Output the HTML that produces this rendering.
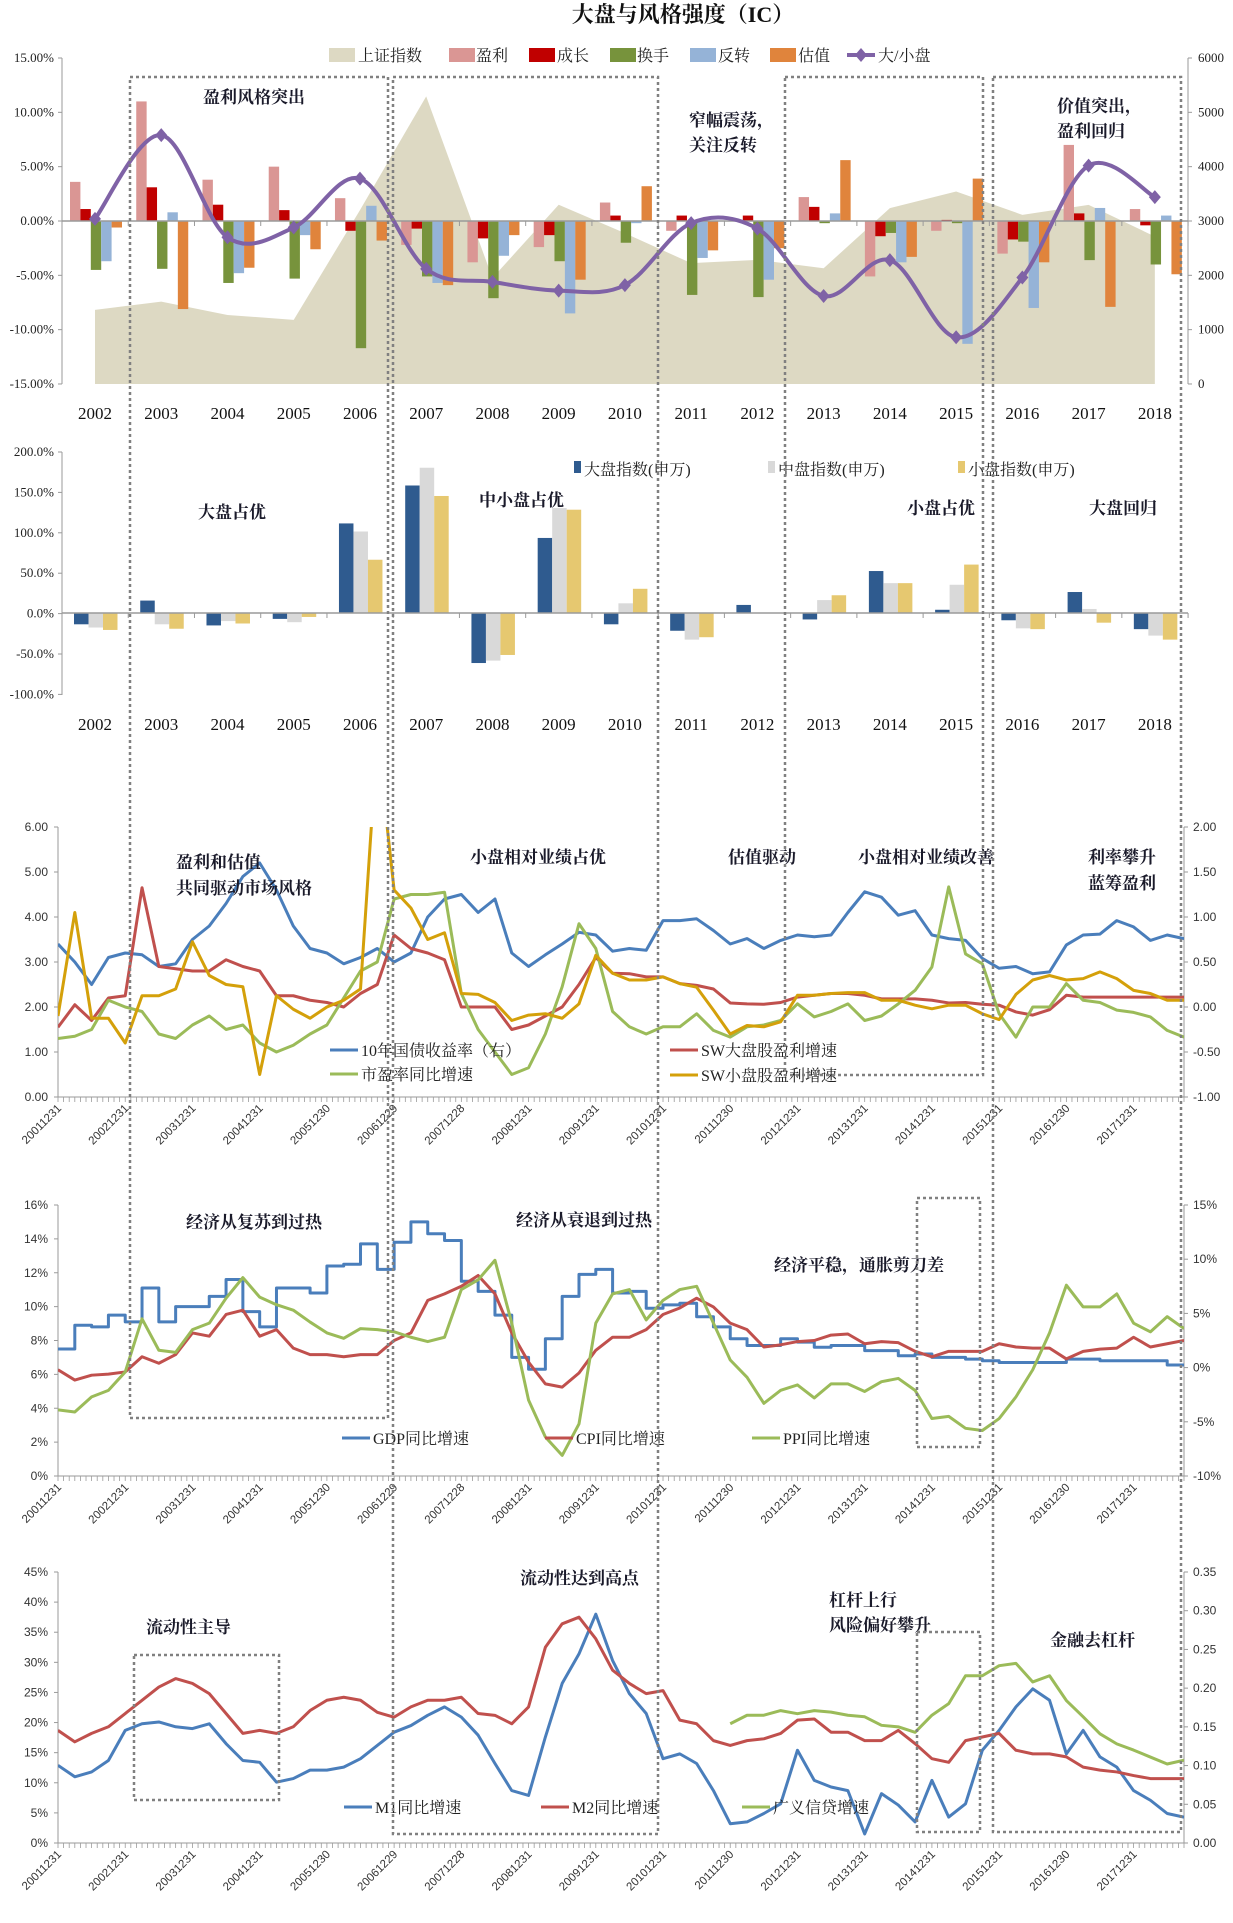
<!DOCTYPE html>
<html><head><meta charset="utf-8">
<style>
html,body{margin:0;padding:0;background:#fff;}
svg{display:block;}
.t{font-family:"Liberation Serif","Noto Serif CJK SC",serif;font-size:13px;fill:#222;}
.yr{font-family:"Liberation Serif",serif;font-size:17px;fill:#111;}
.ann{font-family:"Liberation Serif","Noto Serif CJK SC",serif;font-size:17px;font-weight:bold;fill:#1a1a2a;}
.lg{font-family:"Liberation Serif","Noto Serif CJK SC",serif;font-size:16px;fill:#222;}
.tk{font-family:"Liberation Sans",sans-serif;font-size:12px;fill:#333;}
.dt{font-family:"Liberation Sans",sans-serif;font-size:11.5px;fill:#333;}
</style></head>
<body>
<svg id="root" width="1233" height="1923" viewBox="0 0 1233 1923" xmlns="http://www.w3.org/2000/svg">
<text x="683" y="22" text-anchor="middle" style="font-family:'Liberation Serif','Noto Serif CJK SC',serif;font-size:22px;font-weight:bold;fill:#111">大盘与风格强度（IC）</text>
</svg>
<script>
// ---------- Chart 1 data ----------
const years = ["2002","2003","2004","2005","2006","2007","2008","2009","2010","2011","2012","2013","2014","2015","2016","2017","2018"];
const profit = [3.6,11.0,3.8,5.0,2.1,-2.2,-3.8,-2.4,1.7,-0.9,0.0,2.2,-5.1,-0.9,-3.0,7.0,1.1];
const growth = [1.1,3.1,1.5,1.0,-0.9,-0.7,-1.6,-1.3,0.5,0.5,0.5,1.3,-1.4,0.1,-1.7,0.7,-0.4];
const turnover = [-4.5,-4.4,-5.7,-5.3,-11.7,-5.1,-7.1,-3.7,-2.0,-6.8,-7.0,-0.2,-1.1,-0.2,-1.9,-3.6,-4.0];
const reversal = [-3.7,0.8,-4.8,-1.3,1.4,-5.7,-3.2,-8.5,-0.2,-3.4,-5.4,0.7,-3.8,-11.3,-8.0,1.2,0.5];
const valuation = [-0.6,-8.1,-4.3,-2.6,-1.8,-5.9,-1.3,-5.4,3.2,-2.7,-2.5,5.6,-3.3,3.9,-3.8,-7.9,-4.9];
const shIndex = [1364,1517,1271,1180,3200,5295,1950,3300,2776,2224,2285,2131,3237,3544,3114,3298,2715];
const bigSmall = [0.2,7.9,-1.5,-0.6,3.9,-4.4,-5.6,-6.4,-5.9,-0.2,-0.7,-6.9,-3.6,-10.7,-5.2,5.1,2.2];
const c1LeftTicks = ["15.00%","10.00%","5.00%","0.00%","-5.00%","-10.00%","-15.00%"];
const c1RightTicks = ["6000","5000","4000","3000","2000","1000","0"];
// ---------- Chart 2 data ----------
const largeIdx = [-14,15.4,-15.4,-7.3,111,158,-62,93,-14,-22,10,-8,52,4,-9,26,-20];
const midIdx = [-18,-14,-10,-11.4,101,180,-59,130,12,-33,0,16,37,35,-19,5,-28];
const smallIdx = [-21,-19.5,-13,-4.9,66,145,-52,128,30,-30,0,22,37,60,-20,-12,-33];
const c2Ticks = ["200.0%","150.0%","100.0%","50.0%","0.0%","-50.0%","-100.0%"];
// ---------- Shared monthly axis ----------
const dateLabels = ["20011231","20021231","20031231","20041231","20051230","20061229","20071228","20081231","20091231","20101231","20111230","20121231","20131231","20141231","20151231","20161230","20171231"];
// ---------- Chart 3 data (quarterly samples from 2001-12) ----------
const bondYield = [0.7,0.5,0.25,0.55,0.6,0.58,0.45,0.48,0.75,0.9,1.15,1.45,1.6,1.3,0.9,0.65,0.6,0.48,0.55,0.65,0.5,0.6,1.0,1.2,1.25,1.05,1.2,0.6,0.45,0.58,0.7,0.83,0.8,0.62,
 0.65,0.63,0.96,0.96,0.98,0.85,0.7,0.76,0.65,0.74,0.8,0.78,0.8,1.05,1.28,1.22,1.02,1.07,0.8,0.76,0.74,0.54,0.43,0.45,0.37,0.39,0.69,0.8,0.81,0.96,0.89,0.74,0.8,0.76];
const swLarge = [1.55,2.05,1.7,2.2,2.25,4.65,2.9,2.85,2.8,2.8,3.05,2.9,2.8,2.25,2.25,2.15,2.1,2.0,2.3,2.5,3.6,3.3,3.2,3.05,2.0,2.0,2.0,1.5,1.6,1.8,2.0,2.5,3.1,2.75,
 2.74,2.67,2.67,2.52,2.48,2.4,2.09,2.07,2.06,2.1,2.22,2.26,2.3,2.3,2.26,2.18,2.18,2.18,2.15,2.09,2.1,2.06,2.04,1.89,1.82,1.94,2.26,2.22,2.22,2.22,2.22,2.22,2.22,2.22];
const swSmall = [1.8,4.1,1.75,1.75,1.2,2.25,2.25,2.4,3.45,2.7,2.5,2.45,0.5,2.25,1.95,1.75,2.0,2.15,2.4,8,4.6,4.2,3.5,3.65,2.3,2.28,2.1,1.7,1.82,1.85,1.75,2.07,3.15,2.75,
 2.6,2.6,2.67,2.52,2.44,1.93,1.4,1.59,1.56,1.67,2.26,2.26,2.3,2.32,2.32,2.15,2.15,2.04,1.96,2.04,2.04,1.85,1.72,2.28,2.6,2.7,2.6,2.63,2.78,2.63,2.37,2.3,2.15,2.15];
const peGrowth = [1.3,1.35,1.5,2.15,2.0,1.9,1.4,1.3,1.6,1.8,1.5,1.6,1.2,1.0,1.15,1.4,1.6,2.2,2.8,3.0,4.4,4.5,4.5,4.55,2.3,1.5,1.0,0.5,0.65,1.4,2.45,3.85,3.3,1.9,
 1.56,1.4,1.56,1.56,1.85,1.48,1.33,1.56,1.6,1.7,2.07,1.78,1.9,2.07,1.7,1.8,2.07,2.37,2.89,4.67,3.18,2.96,1.85,1.33,2.0,2.0,2.52,2.15,2.1,1.93,1.88,1.78,1.48,1.33];
const c3LeftTicks = ["6.00","5.00","4.00","3.00","2.00","1.00","0.00"];
const c3RightTicks = ["2.00","1.50","1.00","0.50","0.00","-0.50","-1.00"];
// ---------- Chart 4 data ----------
const gdp = [7.5,8.9,8.8,9.5,9.1,11.1,9.1,10.0,10.0,10.6,11.6,9.7,8.8,11.1,11.1,10.8,12.4,12.5,13.7,12.2,13.8,15.0,14.3,13.9,11.5,10.9,9.5,7.0,6.3,8.1,10.6,11.9,12.2,10.8,
 10.9,9.9,10.1,10.2,9.4,8.8,8.1,7.7,7.7,8.1,7.9,7.6,7.7,7.7,7.4,7.4,7.1,7.2,7.0,7.0,6.9,6.8,6.7,6.7,6.7,6.7,6.9,6.9,6.8,6.8,6.8,6.8,6.55,6.55];
const cpi = [-0.2,-1.15,-0.7,-0.6,-0.4,1.0,0.4,1.2,3.2,2.9,4.9,5.3,2.9,3.5,1.8,1.2,1.2,1.0,1.2,1.2,2.5,3.2,6.2,6.8,7.5,8.5,6.8,3.2,0.5,-1.5,-1.8,-0.5,1.6,2.8,
 2.8,3.5,4.9,5.5,6.4,5.6,4.1,3.5,1.9,2.1,2.4,2.5,3.0,3.1,2.2,2.4,2.3,1.5,1.0,1.5,1.5,1.5,2.2,1.9,1.8,1.8,0.8,1.5,1.7,1.8,2.8,1.9,2.2,2.5];
const ppi = [-3.9,-4.1,-2.7,-2.1,-0.4,4.5,1.6,1.4,3.5,4.1,6.4,8.3,6.5,5.8,5.3,4.2,3.2,2.7,3.6,3.5,3.3,2.8,2.4,2.8,7.2,8.1,9.9,4.1,-3.0,-6.4,-8.1,-5.2,4.1,6.8,
 7.2,4.4,6.2,7.2,7.5,4.1,0.7,-0.9,-3.3,-2.1,-1.6,-2.8,-1.5,-1.5,-2.2,-1.3,-1.0,-2.1,-4.7,-4.5,-5.6,-5.8,-4.7,-2.7,-0.2,3.2,7.6,5.6,5.6,6.8,4.1,3.3,4.7,3.6];
const c4LeftTicks = ["16%","14%","12%","10%","8%","6%","4%","2%","0%"];
const c4RightTicks = ["15%","10%","5%","0%","-5%","-10%"];
// ---------- Chart 5 data ----------
const m1 = [12.9,11.0,11.8,13.7,18.7,19.8,20.1,19.3,19.0,19.8,16.5,13.7,13.4,10.1,10.7,12.1,12.1,12.6,14.0,16.2,18.4,19.5,21.2,22.6,20.9,17.9,13.2,8.7,7.9,17.6,26.5,31.4,38.0,30.3,
 24.8,21.5,14.0,14.8,13.2,8.7,3.2,3.5,4.9,6.5,15.4,10.4,9.3,8.7,1.5,8.2,6.3,3.5,10.4,4.3,6.5,15.4,18.7,22.6,25.6,23.7,14.8,18.7,14.3,12.6,8.7,7.1,4.9,4.3];
const m2 = [18.7,16.8,18.2,19.3,21.5,23.7,25.9,27.3,26.5,24.8,21.5,18.2,18.7,18.2,19.3,22.0,23.7,24.2,23.7,21.7,20.9,22.6,23.7,23.7,24.2,21.5,21.2,19.8,22.6,32.5,36.4,37.5,33.9,28.7,
 26.5,24.8,25.3,20.4,19.8,17.0,16.2,17.0,17.3,18.2,20.4,20.6,18.4,18.4,17.0,17.0,18.7,16.5,14.0,13.4,17.0,17.6,18.2,15.4,14.8,14.8,14.3,12.6,12.1,11.8,11.2,10.7,10.7,10.7];
const creditStartMonth = 120;
const credit = [0.154,0.165,0.165,0.171,0.167,0.171,0.169,0.165,0.163,0.152,0.150,0.143,0.165,0.180,0.216,0.216,0.229,0.232,0.208,0.216,0.184,0.163,0.141,0.128,0.12,0.111,0.102,0.107];
const c5LeftTicks = ["45%","40%","35%","30%","25%","20%","15%","10%","5%","0%"];
const c5RightTicks = ["0.35","0.30","0.25","0.20","0.15","0.10","0.05","0.00"];

const NS = "http://www.w3.org/2000/svg";
const root = document.getElementById("root");
function mk(tag, attrs, parent){
  const e = document.createElementNS(NS, tag);
  for (const k in attrs) e.setAttribute(k, attrs[k]);
  (parent||root).appendChild(e);
  return e;
}
function txt(x,y,s,cls,anchor,parent){
  const e = mk("text",{x:x,y:y,class:cls,"text-anchor":anchor||"start"},parent);
  e.textContent = s;
  return e;
}
const GRAY = "#9a9a9a";

// ================= CHART 1 =================
const c1 = mk("g",{});


const gx = i => 62 + i*66.24;
const yP = v => 221 - v*10.87;
const yS = v => 384 - v*0.05433;
// area
let ad = "M"+(gx(0)+33)+","+yS(0);
shIndex.forEach((v,i)=>{ ad += " L"+(gx(i)+33)+","+yS(v); });
ad += " L"+(gx(16)+33)+","+yS(0)+" Z";
const area = mk("path",{d:ad,fill:"#DDD9C3"},c1);


// axes
mk("line",{x1:62,y1:58,x2:62,y2:384,stroke:GRAY},c1);
mk("line",{x1:1188,y1:58,x2:1188,y2:384,stroke:GRAY},c1);
c1LeftTicks.forEach((s,i)=>{ const y=58+i*54.33; txt(54,y+4,s,"t","end",c1); mk("line",{x1:58,y1:y,x2:62,y2:y,stroke:GRAY},c1); });
c1RightTicks.forEach((s,i)=>{ const y=58+i*54.33; txt(1198,y+4,s,"t","start",c1); mk("line",{x1:1188,y1:y,x2:1192,y2:y,stroke:GRAY},c1); });
// bars
const seriesC1 = [[profit,"#DA9694","bar-profit"],[growth,"#C00000","bar-growth"],[turnover,"#77933C","bar-turnover"],[reversal,"#95B3D7","bar-reversal"],[valuation,"#E0843C","bar-valuation"]];
seriesC1.forEach((s,k)=>{
  s[0].forEach((v,i)=>{
    const x = gx(i)+8+k*10.4;
    const y0 = yP(0), y1 = yP(v);
    const r = mk("rect",{x:x,y:Math.min(y0,y1),width:10.4,height:Math.abs(y1-y0),fill:s[1]},c1);
    
    
  });
});
mk("line",{x1:62,y1:221,x2:1188,y2:221,stroke:GRAY,"stroke-width":1.5},c1);
for(let i=0;i<=17;i++) mk("line",{x1:gx(i),y1:221,x2:gx(i),y2:226,stroke:GRAY},c1);
years.forEach((s,i)=>{ const t=txt(gx(i)+33,419,s,"yr","middle",c1);   });
// purple smooth line
const pts = bigSmall.map((v,i)=>[gx(i)+33,yP(v)]);
let pd = "M"+pts[0][0]+","+pts[0][1];
for(let i=0;i<pts.length-1;i++){
  const p0=pts[Math.max(0,i-1)],p1=pts[i],p2=pts[i+1],p3=pts[Math.min(pts.length-1,i+2)];
  const c1x=p1[0]+(p2[0]-p0[0])/6,c1y=p1[1]+(p2[1]-p0[1])/6,c2x=p2[0]-(p3[0]-p1[0])/6,c2y=p2[1]-(p3[1]-p1[1])/6;
  pd += " C"+c1x+","+c1y+" "+c2x+","+c2y+" "+p2[0]+","+p2[1];
}
const pl = mk("path",{d:pd,fill:"none",stroke:"#7F62A6","stroke-width":4},c1);


pts.forEach(p=>{
  const d = mk("path",{d:"M"+p[0]+","+(p[1]-7)+" L"+(p[0]+6)+","+p[1]+" L"+p[0]+","+(p[1]+7)+" L"+(p[0]-6)+","+p[1]+" Z",fill:"#7F62A6"},c1);
  
  
});
// legend
const lg1 = mk("g",{},c1);


[["上证指数","#DDD9C3",329,358],["盈利","#DA9694",449,476],["成长","#C00000",529,557],["换手","#77933C",610,637],["反转","#95B3D7",690,718],["估值","#E0843C",770,798]].forEach(l=>{
  mk("rect",{x:l[2],y:48,width:26,height:14,fill:l[1]},lg1);
  txt(l[3],61,l[0],"lg","start",lg1);
});
mk("line",{x1:847,y1:55,x2:875,y2:55,stroke:"#7F62A6","stroke-width":4},lg1);
mk("path",{d:"M861,48 L867,55 L861,62 L855,55 Z",fill:"#7F62A6"},lg1);
txt(878,61,"大/小盘","lg","start",lg1);

// ================= CHART 2 =================
const c2 = mk("g",{});


const y2 = v => 613 - v*0.807;
mk("line",{x1:62,y1:452,x2:62,y2:695,stroke:GRAY},c2);
c2Ticks.forEach((s,i)=>{ const y=452+i*40.4; txt(54,y+4,s,"t","end",c2); mk("line",{x1:58,y1:y,x2:62,y2:y,stroke:GRAY},c2); });
[[largeIdx,"#2F5B8F","bar-large-cap"],[midIdx,"#D9D9D9","bar-mid-cap"],[smallIdx,"#E6C870","bar-small-cap"]].forEach((s,k)=>{
  s[0].forEach((v,i)=>{
    const x = gx(i)+12+k*14.5;
    const r = mk("rect",{x:x,y:Math.min(y2(0),y2(v)),width:14.5,height:Math.abs(y2(v)-y2(0)),fill:s[1]},c2);
    
    
  });
});
mk("line",{x1:62,y1:613,x2:1188,y2:613,stroke:GRAY,"stroke-width":1.5},c2);
for(let i=0;i<=17;i++) mk("line",{x1:gx(i),y1:613,x2:gx(i),y2:618,stroke:GRAY},c2);
years.forEach((s,i)=>{ const t=txt(gx(i)+33,730,s,"yr","middle",c2);   });
const lg2 = mk("g",{},c2);


[["大盘指数(申万)","#2F5B8F",574],["中盘指数(申万)","#D9D9D9",768],["小盘指数(申万)","#E6C870",958]].forEach(l=>{
  mk("rect",{x:l[2],y:461,width:7,height:12,fill:l[1]},lg2);
  txt(l[2]+10,475,l[0],"lg","start",lg2);
});

// ================= Line chart helper =================
const xm = m => 58 + m*1126/201;
function lineChart(name, top, bottom, leftTicks, rightTicks){
  const g = mk("g",{});
  
  
  mk("line",{x1:58,y1:top,x2:58,y2:bottom,stroke:GRAY},g);
  mk("line",{x1:1184,y1:top,x2:1184,y2:bottom,stroke:GRAY},g);
  mk("line",{x1:58,y1:bottom,x2:1184,y2:bottom,stroke:GRAY},g);
  const nl = leftTicks.length-1;
  leftTicks.forEach((s,i)=>{ const y=top+i*(bottom-top)/nl; txt(48,y+4,s,"tk","end",g); mk("line",{x1:54,y1:y,x2:58,y2:y,stroke:GRAY},g); });
  const nr = rightTicks.length-1;
  rightTicks.forEach((s,i)=>{ const y=top+i*(bottom-top)/nr; txt(1193,y+4,s,"tk","start",g); mk("line",{x1:1184,y1:y,x2:1188,y2:y,stroke:GRAY},g); });
  for(let m=0;m<=201;m++) mk("line",{x1:xm(m),y1:bottom,x2:xm(m),y2:bottom+5,stroke:GRAY,"stroke-width":0.8},g);
  dateLabels.forEach((s,k)=>{
    const x = xm(12*k)+4, y = bottom+12;
    const t = txt(x,y,s,"dt","end",g);
    t.setAttribute("transform","rotate(-45 "+x+" "+y+")");
    
    
  });
  const cid = name+"-clip";
  const cp = mk("clipPath",{id:cid},g);
  mk("rect",{x:58,y:top,width:1126,height:bottom-top},cp);
  const inner = mk("g",{"clip-path":"url(#"+cid+")"},g);
  return [g, inner];
}
function series(parent, arr, start, yf, color, name, step){
  let d = "";
  arr.forEach((v,i)=>{
    const m = start + i*3;
    if(step && i>0){ d += " L"+xm(m)+","+yf(arr[i-1]); }
    d += (i===0?"M":" L")+xm(m)+","+yf(v);
  });
  if(step) d += " L"+xm(Math.min(201,start+arr.length*3))+","+yf(arr[arr.length-1]);
  const p = mk("path",{d:d,fill:"none",stroke:color,"stroke-width":3,"stroke-linejoin":"round"},parent);
  
  
  return p;
}
function legendLine(parent,x,y,color,label){
  mk("line",{x1:x,y1:y,x2:x+28,y2:y,stroke:color,"stroke-width":3},parent);
  txt(x+31,y+6,label,"lg","start",parent);
}

// ================= CHART 3 =================
const [c3, c3i] = lineChart("earnings-valuation-chart", 827, 1097, c3LeftTicks, c3RightTicks);
const y3L = v => 1097 - v*45, y3R = r => 1097 - (r+1)*90;
series(c3i, bondYield, 0, y3R, "#4A7EBB", "bond-yield-line");
series(c3i, swLarge, 0, y3L, "#C0504D", "sw-large-earnings-line");
series(c3i, peGrowth, 0, y3L, "#9BBB59", "pe-growth-line");
series(c3i, swSmall, 0, y3L, "#D4A00A", "sw-small-earnings-line");
const lg3 = mk("g",{},c3);


legendLine(lg3,330,1050,"#4A7EBB","10年国债收益率（右）");
legendLine(lg3,330,1074,"#9BBB59","市盈率同比增速");
legendLine(lg3,670,1050,"#C0504D","SW大盘股盈利增速");
legendLine(lg3,670,1075,"#D4A00A","SW小盘股盈利增速");

// ================= CHART 4 =================
const [c4, c4i] = lineChart("macro-chart", 1205, 1476, c4LeftTicks, c4RightTicks);
const y4L = v => 1476 - v*16.94, y4R = r => 1476 - (r+10)*10.84;
series(c4i, gdp, 0, y4L, "#4A7EBB", "gdp-line", true);
series(c4i, cpi, 0, y4R, "#C0504D", "cpi-line");
series(c4i, ppi, 0, y4R, "#9BBB59", "ppi-line");
const lg4 = mk("g",{},c4);


legendLine(lg4,342,1438,"#4A7EBB","GDP同比增速");
legendLine(lg4,545,1438,"#C0504D","CPI同比增速");
legendLine(lg4,752,1438,"#9BBB59","PPI同比增速");

// ================= CHART 5 =================
const [c5, c5i] = lineChart("liquidity-chart", 1572, 1843, c5LeftTicks, c5RightTicks);
const y5L = v => 1843 - v*6.022, y5R = r => 1843 - r*774.3;
series(c5i, m1, 0, y5L, "#4A7EBB", "m1-line");
series(c5i, m2, 0, y5L, "#C0504D", "m2-line");
series(c5i, credit, creditStartMonth, y5R, "#9BBB59", "credit-line");
const lg5 = mk("g",{},c5);


legendLine(lg5,344,1807,"#4A7EBB","M1同比增速");
legendLine(lg5,541,1807,"#C0504D","M2同比增速");
legendLine(lg5,742,1807,"#9BBB59","广义信贷增速");

// ================= Annotations =================
const anns = [
 ["盈利风格突出",203,103],["窄幅震荡，",689,126],["关注反转",689,151],["价值突出，",1057,112],["盈利回归",1057,137],
 ["大盘占优",198,518],["中小盘占优",479,506],["小盘占优",907,514],["大盘回归",1089,514],
 ["盈利和估值",176,868],["共同驱动市场风格",176,894],["小盘相对业绩占优",470,863],["估值驱动",728,863],["小盘相对业绩改善",858,863],["利率攀升",1088,863],["蓝筹盈利",1088,889],
 ["经济从复苏到过热",186,1228],["经济从衰退到过热",516,1226],["经济平稳，通胀剪刀差",774,1271],
 ["流动性主导",146,1633],["流动性达到高点",520,1584],["杠杆上行",829,1606],["风险偏好攀升",829,1631],["金融去杠杆",1050,1646]
];
anns.forEach(a=>{
  const t = txt(a[1],a[2],a[0],"ann","start");
  
  
});

// ================= Dotted regime boxes =================
const boxes = [[130,77,388,1418],[393,77,658,1834],[785,77,983,1075],[993,77,1181,1832],[917,1198,980,1447],[134,1655,279,1800],[917,1632,980,1832]];
boxes.forEach(b=>{
  const r = mk("rect",{x:b[0],y:b[1],width:b[2]-b[0],height:b[3]-b[1],fill:"none",stroke:"#808080","stroke-width":2.5,"stroke-dasharray":"3 3"});
  
  
});
</script>
</body></html>
